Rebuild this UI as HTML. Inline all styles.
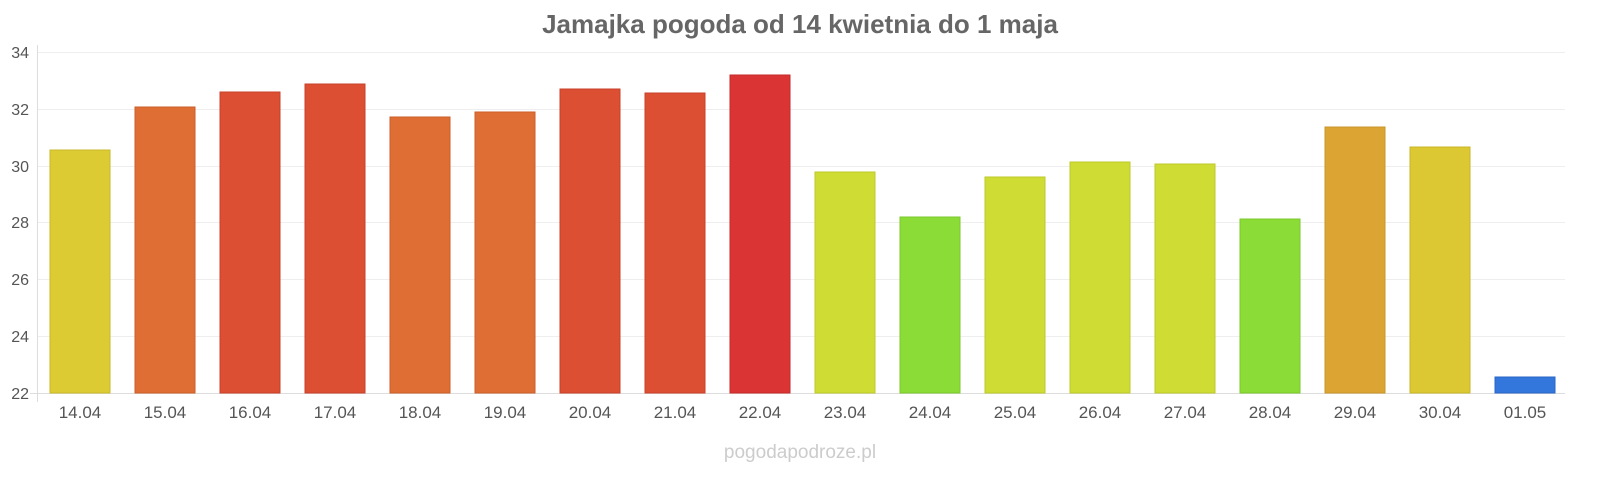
<!DOCTYPE html>
<html><head><meta charset="utf-8"><style>
html,body{margin:0;padding:0;background:#fff;}
svg{display:block;font-family:"Liberation Sans",sans-serif;}
</style></head><body>
<svg width="1600" height="480" viewBox="0 0 1600 480" xmlns="http://www.w3.org/2000/svg">
<text x="800" y="33" text-anchor="middle" font-size="26" font-weight="bold" fill="#666">Jamajka pogoda od 14 kwietnia do 1 maja</text>
<g stroke="#eee" stroke-width="1">
<line x1="37" x2="1565" y1="52.5" y2="52.5"/>
<line x1="37" x2="1565" y1="109.5" y2="109.5"/>
<line x1="37" x2="1565" y1="166.5" y2="166.5"/>
<line x1="37" x2="1565" y1="222.5" y2="222.5"/>
<line x1="37" x2="1565" y1="279.5" y2="279.5"/>
<line x1="37" x2="1565" y1="336.5" y2="336.5"/>
</g>
<line x1="37.5" x2="37.5" y1="45" y2="402" stroke="#ddd"/>
<line x1="30" x2="1565" y1="393.5" y2="393.5" stroke="#ddd"/>
<g font-size="16" fill="#555" text-anchor="end">
<text x="29" y="58">34</text><text x="29" y="115">32</text><text x="29" y="172">30</text>
<text x="29" y="228">28</text><text x="29" y="285">26</text><text x="29" y="342">24</text><text x="29" y="399">22</text>
</g>
<g stroke-width="1">
<rect x="50" y="150" width="60" height="243" fill="#dccb33" stroke="#c9b82a"/>
<rect x="135" y="107" width="60" height="286" fill="#de6e33" stroke="#c95e28"/>
<rect x="220" y="92" width="60" height="301" fill="#dc4f33" stroke="#c8402a"/>
<rect x="305" y="84" width="60" height="309" fill="#dc4f33" stroke="#c8402a"/>
<rect x="390" y="117" width="60" height="276" fill="#de6e33" stroke="#c95e28"/>
<rect x="475" y="112" width="60" height="281" fill="#de6e33" stroke="#c95e28"/>
<rect x="560" y="89" width="60" height="304" fill="#dc4f33" stroke="#c8402a"/>
<rect x="645" y="93" width="60" height="300" fill="#dc4f33" stroke="#c8402a"/>
<rect x="730" y="75" width="60" height="318" fill="#db3434" stroke="#c52a2a"/>
<rect x="815" y="172" width="60" height="221" fill="#cfdc33" stroke="#bcc92a"/>
<rect x="900" y="217" width="60" height="176" fill="#8bdc37" stroke="#7bc92d"/>
<rect x="985" y="177" width="60" height="216" fill="#cfdc33" stroke="#bcc92a"/>
<rect x="1070" y="162" width="60" height="231" fill="#cfdc33" stroke="#bcc92a"/>
<rect x="1155" y="164" width="60" height="229" fill="#cfdc33" stroke="#bcc92a"/>
<rect x="1240" y="219" width="60" height="174" fill="#8bdc37" stroke="#7bc92d"/>
<rect x="1325" y="127" width="60" height="266" fill="#dca533" stroke="#c9952a"/>
<rect x="1410" y="147" width="60" height="246" fill="#dcc833" stroke="#c9b62a"/>
<rect x="1495" y="377" width="60" height="16" fill="#3377dc" stroke="#2a66c5"/>
</g>
<g font-size="17" fill="#555" text-anchor="middle">
<text x="80" y="418">14.04</text><text x="165" y="418">15.04</text><text x="250" y="418">16.04</text>
<text x="335" y="418">17.04</text><text x="420" y="418">18.04</text><text x="505" y="418">19.04</text>
<text x="590" y="418">20.04</text><text x="675" y="418">21.04</text><text x="760" y="418">22.04</text>
<text x="845" y="418">23.04</text><text x="930" y="418">24.04</text><text x="1015" y="418">25.04</text>
<text x="1100" y="418">26.04</text><text x="1185" y="418">27.04</text><text x="1270" y="418">28.04</text>
<text x="1355" y="418">29.04</text><text x="1440" y="418">30.04</text><text x="1525" y="418">01.05</text>
</g>
<text x="800" y="458" text-anchor="middle" font-size="19" fill="#ccc">pogodapodroze.pl</text>
</svg>
</body></html>
